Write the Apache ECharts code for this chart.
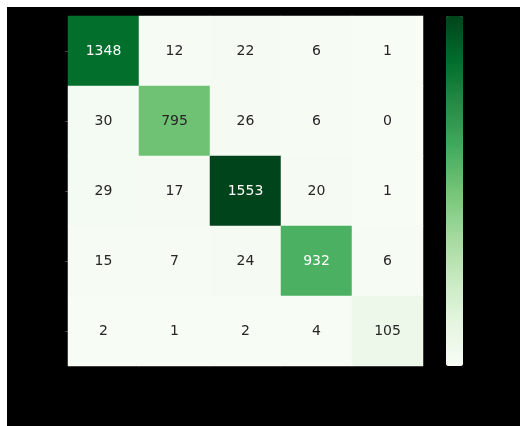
<!DOCTYPE html>
<html>
<head>
<meta charset="utf-8">
<script src="https://cdn.jsdelivr.net/npm/echarts@6/dist/echarts.min.js"></script>
<style>
html,body{margin:0;padding:0;background:#fff;width:520px;height:426px;overflow:hidden;}
#c{position:absolute;left:7px;top:7px;width:513px;height:419px;}
</style>
</head>
<body>
<div id="c"></div>
<script>
const xCategories = ['0','1','2','3','4'];
const yCategories = ['0','1','2','3','4'];
const row0 = [1348, 12, 22, 6, 1];
const row1 = [30, 795, 26, 6, 0];
const row2 = [29, 17, 1553, 20, 1];
const row3 = [15, 7, 24, 932, 6];
const row4 = [2, 1, 2, 4, 105];
const rows = [row0, row1, row2, row3, row4];
const vmin = 0, vmax = 1553;

const greens = ['#f7fcf5','#e5f5e0','#c7e9c0','#a1d99b','#74c476','#41ab5d','#238b45','#006d2c','#00441b'];

const data = [];
rows.forEach((r, yi) => r.forEach((v, xi) => {
  data.push({
    value: [xi, yi, v],
    label: { color: v > 0.55 * vmax ? '#ffffff' : '#262626' }
  });
}));

const chart = echarts.init(document.getElementById('c'));
chart.setOption({
  backgroundColor: '#000000',
  animation: false,
  grid: { left: 61, top: 9, width: 355, height: 350 },
  xAxis: {
    type: 'category', data: xCategories, position: 'bottom',
    axisLine: { show: false },
    axisTick: { show: false },
    axisLabel: { color: '#000', fontFamily: 'DejaVu Sans' },
    splitLine: { show: false }
  },
  yAxis: {
    type: 'category', data: yCategories, inverse: true,
    axisLine: { show: false },
    axisTick: { show: true, length: 3, alignWithLabel: true, lineStyle: { color: '#444' } },
    axisLabel: { color: '#000', fontFamily: 'DejaVu Sans' },
    splitLine: { show: false }
  },
  visualMap: {
    type: 'continuous', min: vmin, max: vmax, calculable: false,
    show: true, orient: 'vertical',
    left: 424, top: -6,
    itemWidth: 17, itemHeight: 350,
    inRange: { color: greens },
    textStyle: { color: '#000' },
    seriesIndex: 0
  },
  series: [{
    type: 'heatmap',
    data: data,
    label: { show: true, fontFamily: 'DejaVu Sans', fontSize: 14 },
    itemStyle: { borderWidth: 0 },
    emphasis: { disabled: true }
  }]
});
</script>
</body>
</html>
